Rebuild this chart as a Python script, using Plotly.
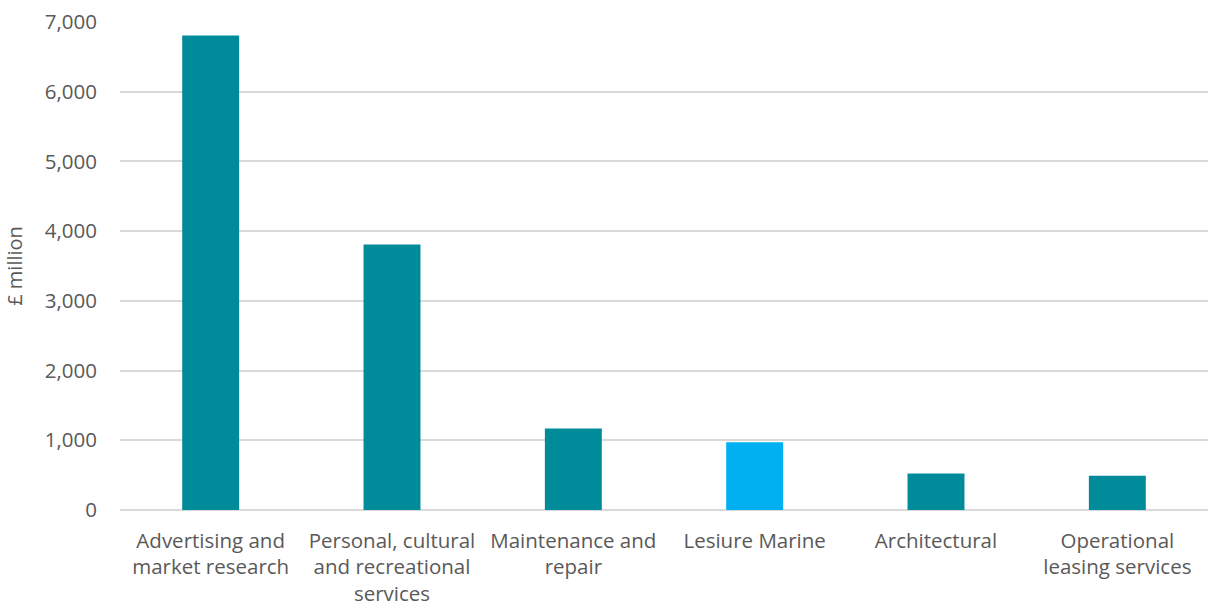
import plotly.graph_objects as go

categories = ["Advertising and<br>market research",
              "Personal, cultural<br>and recreational<br>services",
              "Maintenance and<br>repair",
              "Lesiure Marine",
              "Architectural",
              "Operational<br>leasing services"]
values = [6805, 3810, 1170, 973, 525, 490]
colors = ["#008B9A", "#008B9A", "#008B9A", "#00B0F0", "#008B9A", "#008B9A"]
y_ticks = [0, 1000, 2000, 3000, 4000, 5000, 6000, 7000]

fig = go.Figure(go.Bar(x=categories, y=values, marker=dict(color=colors, line=dict(width=0))))

font_family = "Open Sans, Lato, sans-serif"
fig.update_layout(
    width=1208, height=610,
    margin=dict(l=120, r=0, t=22, b=100),
    plot_bgcolor="white", paper_bgcolor="white",
    bargap=0.686,
    showlegend=False,
    font=dict(family=font_family, size=20.5, color="#595959"),
)
fig.update_yaxes(
    range=[0, 7000], tickvals=y_ticks, tickformat=",",
    showgrid=True, gridcolor="#D9D9D9", gridwidth=1.5,
    zeroline=True, zerolinecolor="#D9D9D9", zerolinewidth=1.5,
    showline=False, ticks="", ticklabelstandoff=22,
    title=dict(text="£ million", standoff=16, font=dict(size=20, color="#595959")),
)
fig.update_xaxes(showline=False, ticks="", showgrid=False, tickangle=0, ticklabelstandoff=16)

fig.write_html("out.html")
